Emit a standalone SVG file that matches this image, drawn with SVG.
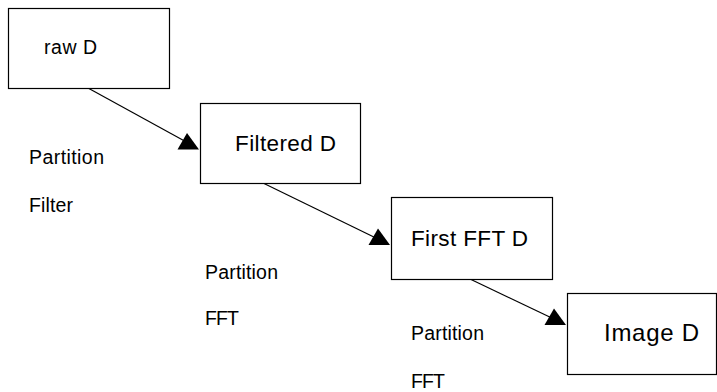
<svg xmlns="http://www.w3.org/2000/svg" width="717" height="392" viewBox="0 0 717 392">
<style>
  .box { fill: #ffffff; stroke: #000000; stroke-width: 1.2; }
  .lbl { font-family: "Liberation Sans", Arial, sans-serif; fill: #000000; }
  .small { font-size: 19.5px; }
  .conn { stroke: #000000; stroke-width: 1.2; fill: none; }
  .head { fill: #000000; stroke: none; }
</style>
<defs>
  <path id="ah" d="M0,0 L-21.5,0 L-12,-16.5 Z"/>
</defs>
<rect width="717" height="392" fill="#ffffff"/>
<g id="connectors">
  <line class="conn" x1="88" y1="88" x2="190" y2="144"/>
  <use href="#ah" class="head" transform="translate(199,149.5)"/>
  <line class="conn" x1="263" y1="183" x2="380" y2="240"/>
  <use href="#ah" class="head" transform="translate(390,245)"/>
  <line class="conn" x1="470" y1="279" x2="556" y2="320"/>
  <use href="#ah" class="head" transform="translate(566,325)"/>
</g>
<g id="raw">
  <rect class="box" x="8.5" y="8.5" width="161" height="80"/>
  <text class="lbl small" x="44" y="54" textLength="53" lengthAdjust="spacing">raw D</text>
</g>
<g id="filtered">
  <rect class="box" x="200.5" y="103.5" width="160" height="80"/>
  <text class="lbl" x="235" y="151" font-size="22.5" textLength="101" lengthAdjust="spacing">Filtered D</text>
</g>
<g id="firstfft">
  <rect class="box" x="391.5" y="197.5" width="161" height="82"/>
  <text class="lbl" x="411" y="246" font-size="22.5" textLength="117" lengthAdjust="spacing">First FFT D</text>
</g>
<g id="image">
  <rect class="box" x="567.5" y="293.5" width="149" height="81"/>
  <text class="lbl" x="604" y="341" font-size="24" textLength="95" lengthAdjust="spacing">Image D</text>
</g>
<g id="labels">
  <text class="lbl small" x="29" y="164" textLength="75" lengthAdjust="spacing">Partition</text>
  <text class="lbl small" x="29" y="212" textLength="44" lengthAdjust="spacing">Filter</text>
  <text class="lbl small" x="205" y="279" textLength="73" lengthAdjust="spacing">Partition</text>
  <text class="lbl small" x="205" y="325" textLength="34" lengthAdjust="spacing">FFT</text>
  <text class="lbl small" x="411" y="340" textLength="73" lengthAdjust="spacing">Partition</text>
  <text class="lbl small" x="411" y="388" textLength="34" lengthAdjust="spacing">FFT</text>
</g>
</svg>
